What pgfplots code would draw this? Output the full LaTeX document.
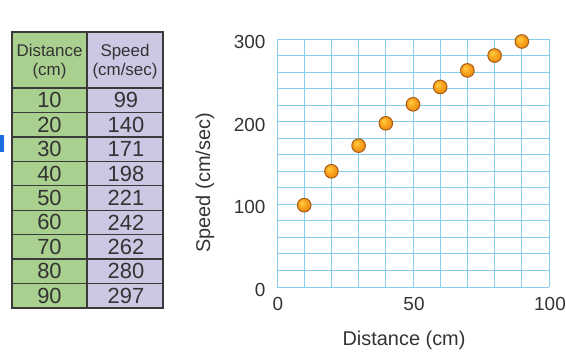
\documentclass[border=0pt]{standalone}
\usepackage{pgfplots}
\usepackage{pgfplotstable}
\pgfplotsset{compat=1.18}
\usepackage{fontspec}
\setmainfont{Liberation Sans}

\definecolor{gridblue}{HTML}{86CDEE}
\definecolor{txt}{HTML}{333333}
\definecolor{colgreen}{HTML}{A9D08E}
\definecolor{collav}{HTML}{CDC7E3}
\definecolor{rule}{HTML}{3A3A3A}
\definecolor{dotedge}{HTML}{A85A12}
\definecolor{tabblue}{HTML}{1A6FE0}

% glossy orange dot: yellow glint upper left, darker rim
\pgfdeclareradialshading{orangeglow}{\pgfpoint{-9bp}{9bp}}{%
  color(0bp)=(rgb,255:red,255;green,208;blue,64);
  color(14bp)=(rgb,255:red,250;green,168;blue,34);
  color(30bp)=(rgb,255:red,238;green,138;blue,18);
  color(44bp)=(rgb,255:red,212;green,112;blue,16);
  color(60bp)=(rgb,255:red,170;green,88;blue,16)}
\pgfdeclareplotmark{orangeball}{%
  \pgfpathcircle{\pgfpointorigin}{\pgfplotmarksize}%
  \pgfshadepath{orangeglow}{0}%
  \pgfusepath{}%
  \pgfpathcircle{\pgfpointorigin}{\pgfplotmarksize}%
  \pgfusepathqstroke
}

% distance (cm) and measured speed (cm/sec)
\pgfplotstableread{
d  s
10 99
20 140
30 171
40 198
50 221
60 242
70 262
80 280
90 297
}\speeddata

\begin{document}
\begin{tikzpicture}[x=1bp,y=1bp]
\useasboundingbox (0,0) rectangle (566,358);

% small blue tab at the left edge
\fill[tabblue] (0,358-152) rectangle (4,358-135);

% ---- data table ----
\fill[colgreen] (12,358-308) rectangle (87,358-32);
\fill[collav] (87,358-308) rectangle (163,358-32);
\foreach \i in {1,...,8} {
  \draw[rule, line width=1.4bp] (12,{358-88-24.44*\i}) -- (163,{358-88-24.44*\i});
}
\draw[rule, line width=2.4bp] (12,358-88) -- (163,358-88);
\draw[rule, line width=1.6bp] (87,358-308) -- (87,358-32);
\draw[rule, line width=2bp] (12,358-308) rectangle (163,358-32);

\node[txt, font=\fontsize{17}{19}\selectfont, align=center] at (49.5,358-62) {Distance\\(cm)};
\node[txt, font=\fontsize{17}{19}\selectfont, align=center] at (125,358-62) {Speed\\(cm/sec)};

\foreach \i in {0,...,8} {
  \pgfplotstablegetelem{\i}{d}\of\speeddata
  \let\dv\pgfplotsretval
  \pgfplotstablegetelem{\i}{s}\of\speeddata
  \let\sv\pgfplotsretval
  \node[txt, font=\fontsize{22}{22}\selectfont, inner sep=0pt] at (49.5,{358-88-24.44*(\i+0.5)}) {\dv};
  \node[txt, font=\fontsize{22}{22}\selectfont, inner sep=0pt] at (126,{358-88-24.44*(\i+0.5)}) {\sv};
}

% ---- scatter plot ----
\begin{axis}[
  at={(277bp,71bp)}, anchor=origin,
  scale only axis, width=272bp, height=248bp,
  xmin=0, xmax=100, ymin=0, ymax=300,
  xtick={0,50,100}, ytick={0,100,200,300},
  minor xtick={10,20,...,90},
  minor ytick={20,40,...,280},
  grid=both,
  major grid style={gridblue, line width=1bp},
  minor grid style={gridblue, line width=1bp},
  axis line style={draw=none},
  major tick length=0pt, minor tick length=0pt,
  clip=false,
  /pgf/number format/assume math mode=true,
  tick label style={txt, font=\fontsize{19}{19}\selectfont},
  xticklabel style={yshift=-7bp, xshift=1bp},
  yticklabel style={xshift=-8bp, yshift=-3bp},
  xlabel={Distance (cm)},
  ylabel={Speed (cm/sec)},
  label style={txt, font=\fontsize{20}{20}\selectfont},
  xlabel style={at={(axis description cs:0.467,-0.214)}, anchor=center},
  ylabel style={at={(axis description cs:-0.265,0.42)}, anchor=center},
]
\addplot[only marks, mark=orangeball, mark size=6.8bp, mark options={draw=dotedge, line width=1bp}] table[x=d, y=s] {\speeddata};
\end{axis}
\end{tikzpicture}
\end{document}
